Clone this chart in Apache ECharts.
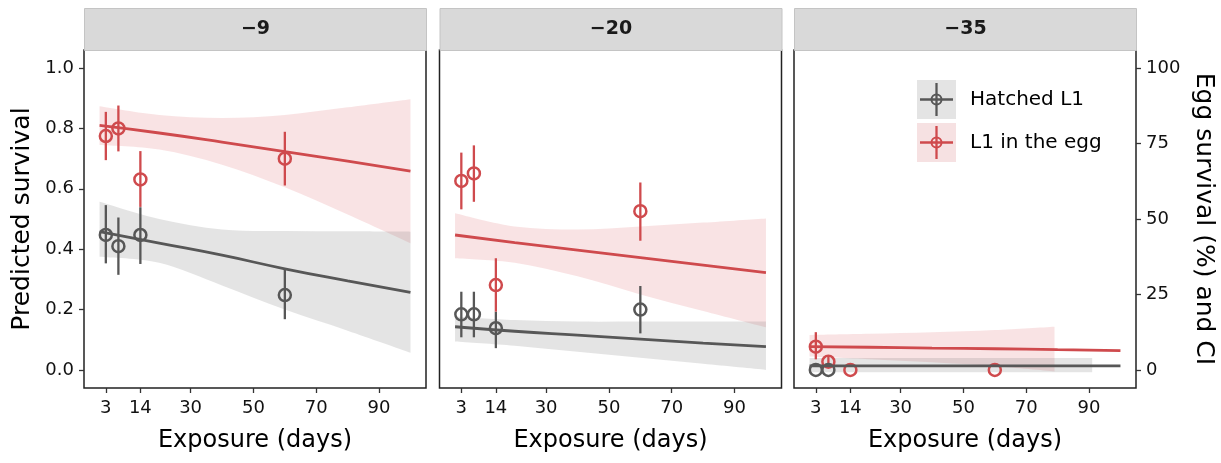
<!DOCTYPE html>
<html>
<head>
<meta charset="utf-8">
<script src="https://cdn.jsdelivr.net/npm/echarts@6/dist/echarts.min.js"></script>
<style>
  html, body { margin: 0; padding: 0; background: #fff; }
  #chart { width: 1221px; height: 463px; }
</style>
</head>
<body>
<div id="chart"></div>
<script>
// 面板（温度）
const panels = ['\u22129', '\u221220', '\u221235']
const days = [3, 7, 14, 60]
const xTicks = [3, 14, 30, 50, 70, 90]
const yTicks = [0, 0.2, 0.4, 0.6, 0.8, 1.0]
const rightTicks = [0, 0.25, 0.5, 0.75, 1.0]

// 观测点 + 误差线
const l1Obs = [[0.447, 0.41, 0.447, 0.248], [0.184, 0.184, 0.138, 0.2], [0, 0, null, null]]
const l1Lo = [[0.353, 0.315, 0.351, 0.168], [0.108, 0.108, 0.072, 0.121], [null, null, null, null]]
const l1Hi = [[0.546, 0.505, 0.539, 0.333], [0.259, 0.259, 0.193, 0.278], [null, null, null, null]]
const eggObs = [[0.775, 0.8, 0.631, 0.7], [0.626, 0.651, 0.281, 0.526], [0.077, 0.027, 0, 0]]
const eggLo = [[0.695, 0.724, 0.54, 0.611], [0.532, 0.557, 0.193, 0.428], [0.035, 0.01, null, null]]
const eggHi = [[0.855, 0.876, 0.725, 0.789], [0.72, 0.744, 0.37, 0.621], [0.125, 0.045, null, null]]

// 拟合曲线
const fitX = [1, 20, 40, 60, 80, 100]
const l1Fit = [
  [0.458, 0.42, 0.38, 0.335, 0.295, 0.257],
  [0.143, 0.128, 0.115, 0.102, 0.089, 0.077],
  [0.013, 0.013, 0.013, 0.013, 0.013, 0.013]
]
const eggFit = [
  [0.81, 0.785, 0.755, 0.723, 0.692, 0.659],
  [0.447, 0.422, 0.397, 0.372, 0.347, 0.322],
  [0.077, 0.075, 0.072, 0.07, 0.067, 0.064]
]

// 置信区间
const l1BandX = [fitX, fitX, [1, 20, 40, 60, 80, 91]]
const l1BandLo = [
  [0.375, 0.355, 0.28, 0.2, 0.13, 0.057],
  [0.094, 0.08, 0.06, 0.04, 0.02, 0.0],
  [-0.008, -0.008, -0.008, -0.008, -0.008, -0.008]
]
const l1BandHi = [
  [0.557, 0.5, 0.465, 0.46, 0.459, 0.458],
  [0.177, 0.165, 0.16, 0.16, 0.16, 0.16],
  [0.039, 0.039, 0.039, 0.039, 0.039, 0.039]
]
const eggBandX = [fitX, fitX, [1, 20, 40, 60, 79]]
const eggBandLo = [
  [0.745, 0.73, 0.68, 0.605, 0.515, 0.42],
  [0.37, 0.355, 0.31, 0.25, 0.195, 0.141],
  [0.044, 0.035, 0.025, 0.012, -0.005]
]
const eggBandHi = [
  [0.874, 0.845, 0.835, 0.845, 0.87, 0.897],
  [0.519, 0.475, 0.465, 0.475, 0.488, 0.502],
  [0.116, 0.12, 0.125, 0.132, 0.143]
]

const RED = '#cf4a4d'
const GREY = '#575757'
const RED_BAND = 'rgba(215, 70, 75, 0.15)'
const GREY_BAND = 'rgba(120, 120, 120, 0.2)'
const FONT = 'DejaVu Sans'

const panelLeft = [84, 439.5, 794]
const panelWidth = 342
const panelTop = 50
const panelHeight = 338

const zip = (xs, ys) => xs.map((x, i) => [x, ys[i]])

// Catmull-Rom -> 三次贝塞尔，pts 为像素坐标
const curvePath = (pts, moveFirst) => {
  let d = (moveFirst ? 'M' : 'L') + pts[0][0] + ',' + pts[0][1]
  for (let i = 0; i < pts.length - 1; i++) {
    const p0 = pts[Math.max(i - 1, 0)]
    const p1 = pts[i]
    const p2 = pts[i + 1]
    const p3 = pts[Math.min(i + 2, pts.length - 1)]
    const c1 = [p1[0] + (p2[0] - p0[0]) / 6, p1[1] + (p2[1] - p0[1]) / 6]
    const c2 = [p2[0] - (p3[0] - p1[0]) / 6, p2[1] - (p3[1] - p1[1]) / 6]
    d += 'C' + c1[0] + ',' + c1[1] + ',' + c2[0] + ',' + c2[1] + ',' + p2[0] + ',' + p2[1]
  }
  return d
}

const bandSeries = (p, xs, lo, hi, color) => ({
  type: 'custom', xAxisIndex: p, yAxisIndex: p, silent: true,
  data: xs.map((x, i) => [x, lo[i], hi[i]]),
  encode: { x: 0, y: [1, 2] },
  renderItem: (params, api) => {
    if (params.dataIndex !== 0) return null
    const up = xs.map((x, i) => api.coord([x, hi[i]]))
    const dn = xs.map((x, i) => api.coord([x, lo[i]])).reverse()
    const d = curvePath(up, true) + curvePath(dn, false) + 'Z'
    return { type: 'path', shape: { pathData: d }, style: { fill: color } }
  }
})

const errorSeries = (p, lo, hi, color) => ({
  type: 'custom', xAxisIndex: p, yAxisIndex: p,
  data: days.map((d, i) => [d, lo[i], hi[i]]).filter((r) => r[1] !== null),
  encode: { x: 0, y: [1, 2] },
  renderItem: (params, api) => {
    const a = api.coord([api.value(0), api.value(1)])
    const b = api.coord([api.value(0), api.value(2)])
    return {
      type: 'line',
      shape: { x1: a[0], y1: a[1], x2: b[0], y2: b[1] },
      style: { stroke: color, lineWidth: 2.3 }
    }
  }
})

const pointSeries = (p, vals, color) => ({
  type: 'scatter', xAxisIndex: p, yAxisIndex: p,
  data: days.map((d, i) => [d, vals[i]]).filter((r) => r[1] !== null),
  symbol: 'circle', symbolSize: 12,
  itemStyle: { color: 'rgba(0,0,0,0)', borderColor: color, borderWidth: 2.5, opacity: 1 }
})

const lineSeries = (p, ys, color) => ({
  type: 'line', xAxisIndex: p, yAxisIndex: p,
  data: zip(fitX, ys), smooth: true, symbol: 'none',
  lineStyle: { color: color, width: 2.8 }
})

const series = []
panels.forEach((name, p) => {
  series.push(bandSeries(p, eggBandX[p], eggBandLo[p], eggBandHi[p], RED_BAND))
  series.push(bandSeries(p, l1BandX[p], l1BandLo[p], l1BandHi[p], GREY_BAND))
  series.push(lineSeries(p, eggFit[p], RED))
  series.push(lineSeries(p, l1Fit[p], GREY))
  series.push(errorSeries(p, l1Lo[p], l1Hi[p], GREY))
  series.push(pointSeries(p, l1Obs[p], GREY))
  series.push(errorSeries(p, eggLo[p], eggHi[p], RED))
  series.push(pointSeries(p, eggObs[p], RED))
})

const grids = panels.map((name, p) => ({
  left: panelLeft[p], top: panelTop, width: panelWidth, height: panelHeight,
  show: true, borderColor: '#222', borderWidth: 1.5, backgroundColor: '#fff'
}))

const xAxes = panels.map((name, p) => ({
  type: 'value', gridIndex: p, min: -3.95, max: 104.95,
  name: 'Exposure (days)', nameLocation: 'middle', nameGap: 41,
  nameTextStyle: { fontFamily: FONT, fontSize: 24, color: '#000' },
  axisLine: { show: false, onZero: false },
  splitLine: { show: false },
  axisTick: { show: true, length: 5, customValues: xTicks, lineStyle: { color: '#333', width: 1.3 } },
  axisLabel: { customValues: xTicks, margin: 11, fontFamily: FONT, fontSize: 18, color: '#111' }
}))

const yAxes = panels.map((name, p) => ({
  type: 'value', gridIndex: p, min: -0.06, max: 1.06,
  name: p === 0 ? 'Predicted survival' : '', nameLocation: 'middle', nameGap: 49,
  nameTextStyle: { fontFamily: FONT, fontSize: 25, color: '#000' },
  axisLine: { show: false, onZero: false },
  splitLine: { show: false },
  axisTick: { show: p === 0, length: 5, customValues: yTicks, lineStyle: { color: '#333', width: 1.3 } },
  axisLabel: {
    show: p === 0, customValues: yTicks, margin: 10,
    fontFamily: FONT, fontSize: 18, color: '#111',
    formatter: (v) => v.toFixed(1)
  }
}))

// 右侧副坐标轴
yAxes.push({
  type: 'value', gridIndex: 2, position: 'right', min: -0.06, max: 1.06,
  name: 'Egg survival (%) and CI', nameLocation: 'middle', nameGap: 55, nameRotate: -90,
  nameTextStyle: { fontFamily: FONT, fontSize: 25, color: '#000' },
  axisLine: { show: false, onZero: false },
  splitLine: { show: false },
  axisTick: { show: true, length: 5, customValues: rightTicks, lineStyle: { color: '#333', width: 1.3 } },
  axisLabel: {
    customValues: rightTicks, margin: 10, fontFamily: FONT, fontSize: 18, color: '#111',
    formatter: (v) => String(Math.round(v * 100))
  }
})

// 分面标题条
const strips = panels.map((name, p) => ({
  type: 'group', left: panelLeft[p], top: 8,
  children: [
    { type: 'rect', shape: { x: 0, y: 0, width: panelWidth, height: 42 },
      style: { fill: '#d9d9d9', stroke: '#c4c4c4', lineWidth: 1 } },
    { type: 'text', x: panelWidth / 2, y: 21,
      style: { text: name, fontFamily: FONT, fontWeight: 'bold', fontSize: 19,
        fill: '#1a1a1a', align: 'center', verticalAlign: 'middle' } }
  ]
}))

// 图例
const legendItems = [
  { label: 'Hatched L1', color: GREY, bg: '#e4e4e4' },
  { label: 'L1 in the egg', color: RED, bg: '#f6e1e2' }
]
const legend = legendItems.map((it, i) => ({
  type: 'group', left: 917, top: 80 + i * 43,
  children: [
    { type: 'rect', shape: { x: 0, y: 0, width: 39, height: 39 }, style: { fill: it.bg } },
    { type: 'line', shape: { x1: 3, y1: 19.5, x2: 36, y2: 19.5 }, style: { stroke: it.color, lineWidth: 2.3 } },
    { type: 'line', shape: { x1: 19.5, y1: 3, x2: 19.5, y2: 36 }, style: { stroke: it.color, lineWidth: 2.3 } },
    { type: 'circle', shape: { cx: 19.5, cy: 19.5, r: 5 }, style: { fill: 'none', stroke: it.color, lineWidth: 2 } },
    { type: 'text', x: 53, y: 19.5,
      style: { text: it.label, fontFamily: FONT, fontSize: 20, fill: '#000', verticalAlign: 'middle' } }
  ]
}))

const chart = echarts.init(document.getElementById('chart'), null, { renderer: 'canvas' })
chart.setOption({
  animation: false,
  backgroundColor: '#fff',
  grid: grids,
  xAxis: xAxes,
  yAxis: yAxes,
  series: series,
  graphic: [...strips, ...legend]
})
</script>
</body>
</html>
